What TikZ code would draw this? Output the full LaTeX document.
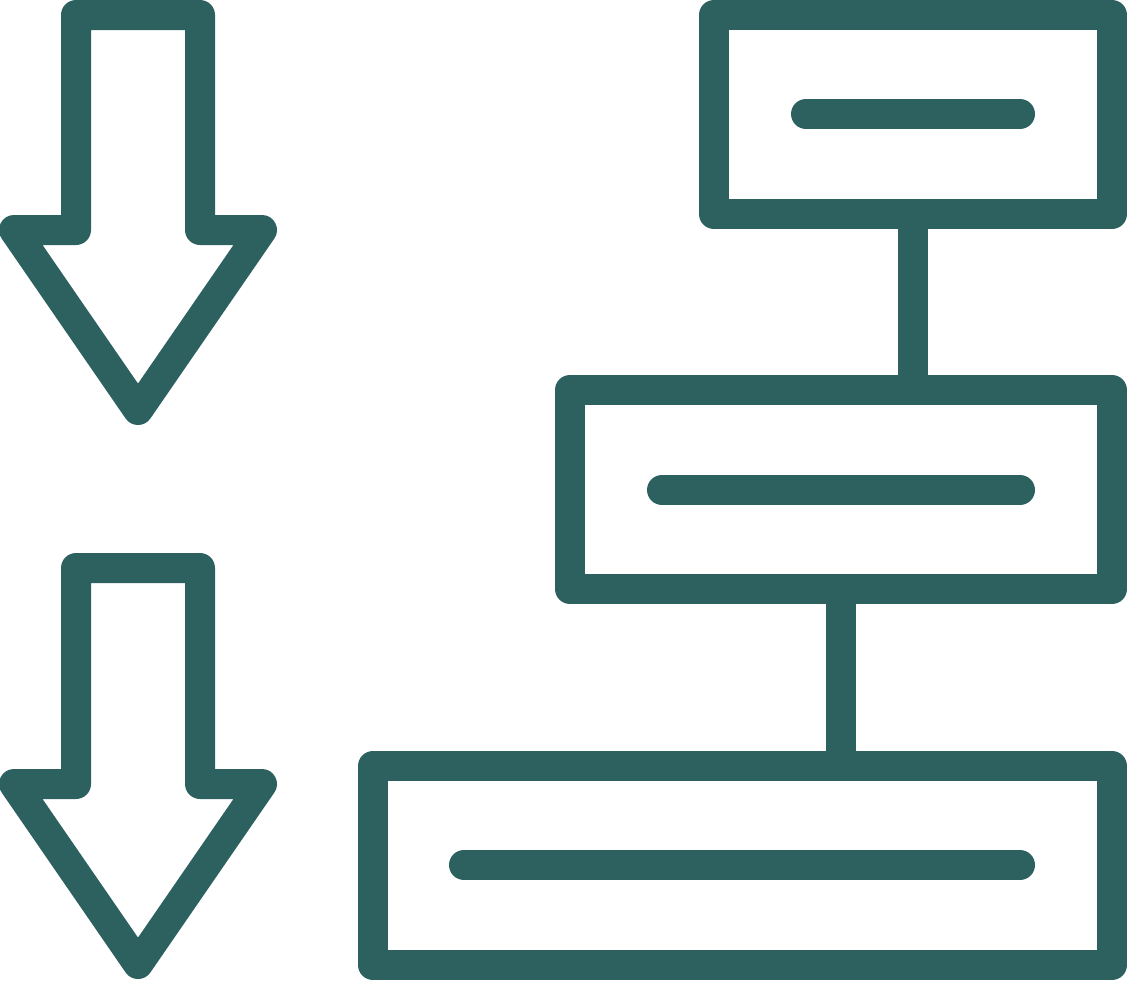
\documentclass[tikz,border=0pt]{standalone}
\definecolor{ink}{HTML}{2C6160}
\begin{document}
\begin{tikzpicture}[x=1pt,y=-1pt,
  ic/.style={draw=ink,line width=30pt,line join=round},
  bar/.style={draw=ink,line width=30pt,line cap=round},
  boxnode/.style={ic,rectangle,inner sep=0pt,outer sep=0pt,anchor=north west}]
\useasboundingbox (0,0) rectangle (1127,980);
% arrows
\draw[ic] (76,15) -- (200,15) -- (200,230) -- (262,230) -- (138,410) -- (14,230) -- (76,230) -- cycle;
\draw[ic] (76,568) -- (200,568) -- (200,784) -- (262,784) -- (138,964) -- (14,784) -- (76,784) -- cycle;
% boxes
\node[boxnode,minimum width=398pt,minimum height=199pt] (top) at (714,15) {};
\node[boxnode,minimum width=542pt,minimum height=199pt] (mid) at (570,390) {};
\node[boxnode,minimum width=739pt,minimum height=199pt] (bot) at (373,766) {};
% connectors
\draw[ic] (top.south) -- (top.south |- mid.north);
\draw[ic] (mid.south) -- (mid.south |- bot.north);
% inner bars
\coordinate (t1) at (806,114); \coordinate (t2) at (1020,114);
\coordinate (m1) at (662,490); \coordinate (m2) at (1020,490);
\coordinate (b1) at (464,865); \coordinate (b2) at (1020,865);
\draw[bar] (t1) -- (t2);
\draw[bar] (m1) -- (m2);
\draw[bar] (b1) -- (b2);
\end{tikzpicture}
\end{document}
